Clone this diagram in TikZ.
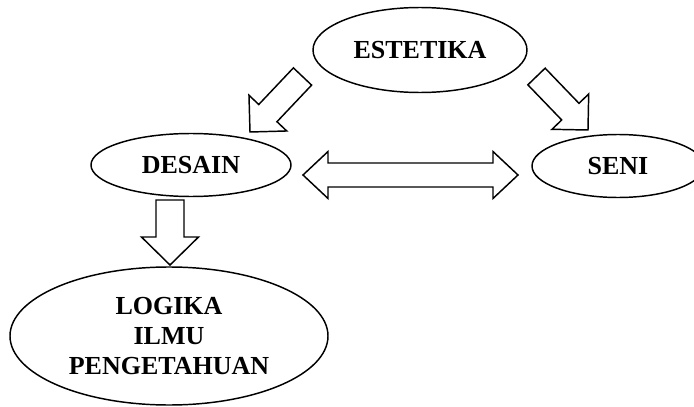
\documentclass[tikz,border=0pt]{standalone}
\usepackage{fontspec}
\setmainfont{Liberation Serif}
\usetikzlibrary{calc,shapes.geometric}

% block arrow: tail, tip, shaft half width, head half width, head length
\newcommand{\blockarrow}[5]{%
  \draw[block] ($(#1)!#3!90:(#2)$) -- ($(#2)!#5!(#1)!#3!-90:(#1)$)
    -- ($(#2)!#5!(#1)!#4!-90:(#1)$) -- (#2)
    -- ($(#2)!#5!(#1)!#4!90:(#1)$) -- ($(#2)!#5!(#1)!#3!90:(#1)$)
    -- ($(#1)!#3!-90:(#2)$) -- cycle;}
% double block arrow: tip, tip, shaft half width, head half width, head length
\newcommand{\doubleblock}[5]{%
  \draw[block] (#1) -- ($(#1)!#5!(#2)!#4!90:(#2)$) -- ($(#1)!#5!(#2)!#3!90:(#2)$)
    -- ($(#2)!#5!(#1)!#3!-90:(#1)$) -- ($(#2)!#5!(#1)!#4!-90:(#1)$) -- (#2)
    -- ($(#2)!#5!(#1)!#4!90:(#1)$) -- ($(#2)!#5!(#1)!#3!90:(#1)$)
    -- ($(#1)!#5!(#2)!#3!-90:(#2)$) -- ($(#1)!#5!(#2)!#4!-90:(#2)$) -- cycle;}

\begin{document}
\begin{tikzpicture}[x=0.75pt, y=-0.75pt,
    topic/.style={ellipse, draw, line width=1.1pt, inner sep=0pt, align=center,
      font=\fontsize{19.5}{22.5}\selectfont\bfseries},
    block/.style={draw, line width=1.1pt, fill=white}]
      \useasboundingbox (0,0) rectangle (694,407);

      \node[topic, minimum width=160.5pt, minimum height=63.75pt] (estetika) at (420,50) {ESTETIKA};
      \node[topic, minimum width=150pt, minimum height=47.25pt] (desain) at (191,165) {DESAIN};
      \node[topic, minimum width=129pt, minimum height=47.25pt] (seni) at (618,166) {SENI};
      \node[topic, minimum width=238.5pt, minimum height=103.5pt] (logika) at (169,336)
        {LOGIKA\\ILMU\\PENGETAHUAN};

      % arrow ends
      \coordinate (esttail) at (302.5,76.5);
      \coordinate (destip) at (250,132);
      \coordinate (senitail) at (536.5,76.5);
      \coordinate (senitip) at (588,130);
      \coordinate (lefttip) at (303,175);
      \coordinate (righttip) at (518,175);
      \coordinate (logtail) at (170,200);
      \coordinate (logtip) at (170,265);

      \blockarrow{esttail}{destip}{9.4pt}{19.5pt}{19.5pt}
      \blockarrow{senitail}{senitip}{9pt}{19.1pt}{19.1pt}
      \doubleblock{lefttip}{righttip}{9pt}{17.6pt}{18.75pt}
      \blockarrow{logtail}{logtip}{10.5pt}{21.4pt}{21pt}
\end{tikzpicture}
\end{document}
